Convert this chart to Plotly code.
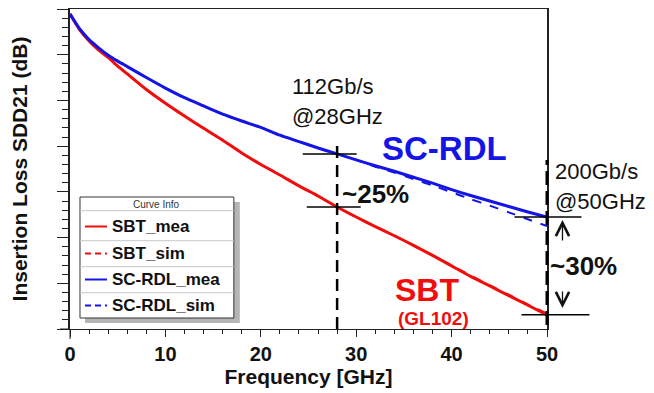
import plotly.graph_objects as go

# ---------------- data ----------------
FREQ = [0, 1, 2, 3, 4, 5, 6, 8, 10, 12, 14, 16, 18, 20, 22, 24, 26, 28,
        30, 32, 34, 36, 38, 40, 42, 44, 46, 48, 50]

SBT_MEA = [-0.11, -0.45, -0.70, -0.90, -1.06, -1.25, -1.42, -1.76, -2.06, -2.34,
           -2.61, -2.87, -3.15, -3.40, -3.63, -3.87, -4.09, -4.33,
           -4.55, -4.76, -4.96, -5.17, -5.39, -5.62, -5.85, -6.06, -6.27, -6.48, -6.69]
SBT_SIM = [-0.11, -0.45, -0.70, -0.90, -1.06, -1.25, -1.42, -1.76, -2.06, -2.34,
           -2.61, -2.87, -3.15, -3.40, -3.63, -3.87, -4.09, -4.33,
           -4.55, -4.76, -4.96, -5.17, -5.39, -5.61, -5.83, -6.04, -6.25, -6.46, -6.66]
SCRDL_MEA = [-0.11, -0.43, -0.67, -0.85, -1.01, -1.14, -1.26, -1.50, -1.73, -1.94,
             -2.12, -2.30, -2.45, -2.59, -2.76, -2.90, -3.04, -3.17,
             -3.30, -3.43, -3.55, -3.68, -3.81, -3.95, -4.08, -4.20, -4.32, -4.44, -4.55]
SCRDL_SIM = [-0.11, -0.43, -0.67, -0.85, -1.01, -1.14, -1.26, -1.50, -1.73, -1.94,
             -2.12, -2.30, -2.45, -2.59, -2.76, -2.90, -3.04, -3.17,
             -3.30, -3.45, -3.58, -3.72, -3.86, -4.01, -4.16, -4.30, -4.45, -4.60, -4.75]

SERIES_NAMES = ["SBT_mea", "SBT_sim", "SC-RDL_mea", "SC-RDL_sim"]
X_TICKS = [0, 10, 20, 30, 40, 50]
MARK_F1, MARK_F2 = 28, 50

RED = "#f20d0d"
BLUE = "#1414e6"
FONT = "Arial, Liberation Sans, sans-serif"

# ---------------- geometry (window pixels; page body has an 8px margin) ----------------
OFF = 8
WIN_W, WIN_H = 654, 393
W, H = WIN_W - OFF, WIN_H - OFF
PL, PR, PT, PB = 70, 547.5, 9, 329          # plot area in window pixels
ML, MR, MT, MB = PL - OFF, W - (PR - OFF), PT - OFF, H - (PB - OFF)
PW, PH = PR - PL, PB - PT
XMIN, XMAX, YMIN, YMAX = 0, 50, -7.0, 0.0


def px(x):
    return (x - PL) / PW


def py(y):
    return (PB - y) / PH


def fx(f):
    return (f - XMIN) / (XMAX - XMIN)


def vy(v):
    return (v - YMIN) / (YMAX - YMIN)


fig = go.Figure()
styles = [
    (SBT_MEA, RED, "solid", 3),
    (SBT_SIM, RED, "dash", 2),
    (SCRDL_MEA, BLUE, "solid", 3),
    (SCRDL_SIM, BLUE, "dash", 2),
]
for name, (vals, col, dash, w) in zip(SERIES_NAMES, styles):
    fig.add_trace(go.Scatter(x=FREQ, y=vals, mode="lines", name=name,
                             line=dict(color=col, width=w, dash=dash, shape="spline", smoothing=0.5),
                             showlegend=False))

i1 = FREQ.index(MARK_F1)
i2 = FREQ.index(MARK_F2)

shapes = []


def line(x0, y0, x1, y1, color="black", width=1.5, dash="solid"):
    shapes.append(dict(type="line", xref="paper", yref="paper", x0=x0, y0=y0, x1=x1, y1=y1,
                       line=dict(color=color, width=width, dash=dash)))


# axis cross extensions at origin
line(px(60), 0, 0, 0, "#222", 1)
line(0, 0, 0, py(339), "#222", 1)

# 28 GHz markers
line(fx(MARK_F1), 0, fx(MARK_F1), py(145), "black", 2.5, "12px,7px")
line(px(303), vy(SCRDL_MEA[i1]), px(357), vy(SCRDL_MEA[i1]))
line(px(307), vy(SBT_MEA[i1]), px(361), vy(SBT_MEA[i1]))
# 50 GHz markers
line(fx(MARK_F2), py(325), fx(MARK_F2), py(160), "black", 3, "14px,6px")
line(px(515), vy(SCRDL_MEA[i2]), px(582), vy(SCRDL_MEA[i2]))
line(px(522), vy(SBT_MEA[i2]), px(590), vy(SBT_MEA[i2]))

# custom legend box ("Curve Info")
shapes.append(dict(type="rect", xref="paper", yref="paper", x0=px(85), x1=px(240), y0=py(323), y1=py(202),
                   fillcolor="#b5b5b5", line=dict(width=0), layer="above"))
shapes.append(dict(type="rect", xref="paper", yref="paper", x0=px(80), x1=px(234), y0=py(318), y1=py(197),
                   fillcolor="white", line=dict(color="#333", width=1), layer="above"))
for sy in [210.7, 240.7, 266.7, 292.7]:
    line(px(80), py(sy), px(234), py(sy), "#c8c8c8", 1)
row_y = [226.5, 253.5, 279.5, 305.5]
for (vals, col, dash, w), ry in zip(styles, row_y):
    line(px(85), py(ry), px(107), py(ry), col, 2, "solid" if dash == "solid" else "6px,4px")

annotations = []


def text(x, y, t, size, color="#111", bold=False, xanchor="center", angle=0):
    annotations.append(dict(xref="paper", yref="paper", x=x, y=y, text=t, showarrow=False,
                            xanchor=xanchor, yanchor="middle", textangle=angle,
                            font=dict(family=FONT, size=size, color=color,
                                      weight="bold" if bold else "normal")))


text(px(157), py(204), "Curve Info", 10, "#333")
for name, ry in zip(SERIES_NAMES, row_y):
    text(px(110), py(ry), name, 17, "#111", True, "left")

text(px(290), py(86), "112Gb/s", 22, xanchor="left")
text(px(290), py(116), "@28GHz", 22, xanchor="left")
text(px(554), py(171), "200Gb/s", 22, xanchor="left")
text(px(554), py(201), "@50GHz", 22, xanchor="left")
text(px(445), py(148), "SC-RDL", 33, BLUE, True)
text(px(376), py(194), "~25%", 26, "#111", True)
text(px(584), py(266), "~30%", 26, "#111", True)
text(px(427), py(290), "SBT", 32, RED, True)
text(px(434), py(318), "(GL102)", 19, RED, True)

# arrows
annotations.append(dict(xref="paper", yref="paper", x=px(563), y=py(220), ax=0, ay=22,
                        showarrow=True, arrowhead=5, arrowsize=2, arrowwidth=1.3, arrowcolor="#111", text=""))
annotations.append(dict(xref="paper", yref="paper", x=px(563), y=py(308), ax=0, ay=-18,
                        showarrow=True, arrowhead=5, arrowsize=2, arrowwidth=1.3, arrowcolor="#111", text=""))

fig.update_layout(
    width=W, height=H, autosize=False,
    margin=dict(l=ML, r=MR, t=MT, b=MB),
    paper_bgcolor="white", plot_bgcolor="white",
    shapes=shapes, annotations=annotations,
    font=dict(family=FONT, color="#111"),
)
fig.update_xaxes(range=[XMIN, XMAX], tickmode="array", tickvals=X_TICKS, ticktext=[str(t) for t in X_TICKS],
                 ticks="outside", ticklen=7, tickwidth=1, tickcolor="#222",
                 minor=dict(dtick=2, tick0=0, ticks="outside", ticklen=4, tickcolor="#222"),
                 showline=True, linecolor="#222", linewidth=1, mirror=True,
                 showgrid=False, zeroline=False,
                 tickfont=dict(family=FONT, size=20, weight="bold", color="#111"),
                 title=dict(text="Frequency [GHz]", standoff=5,
                            font=dict(family=FONT, size=21, weight="bold", color="#111")))
fig.update_yaxes(range=[YMIN, YMAX], dtick=1, tick0=0,
                 ticks="outside", ticklen=11, tickwidth=1, tickcolor="#222",
                 minor=dict(dtick=0.2, tick0=0, ticks="outside", ticklen=6, tickcolor="#222"),
                 showticklabels=False,
                 showline=True, linecolor="#222", linewidth=1.5, mirror=True,
                 showgrid=False, zeroline=False,
                 title=dict(text="Insertion Loss SDD21 (dB)", standoff=25,
                            font=dict(family=FONT, size=21, weight="bold", color="#111")))

fig.write_html("out.html")
